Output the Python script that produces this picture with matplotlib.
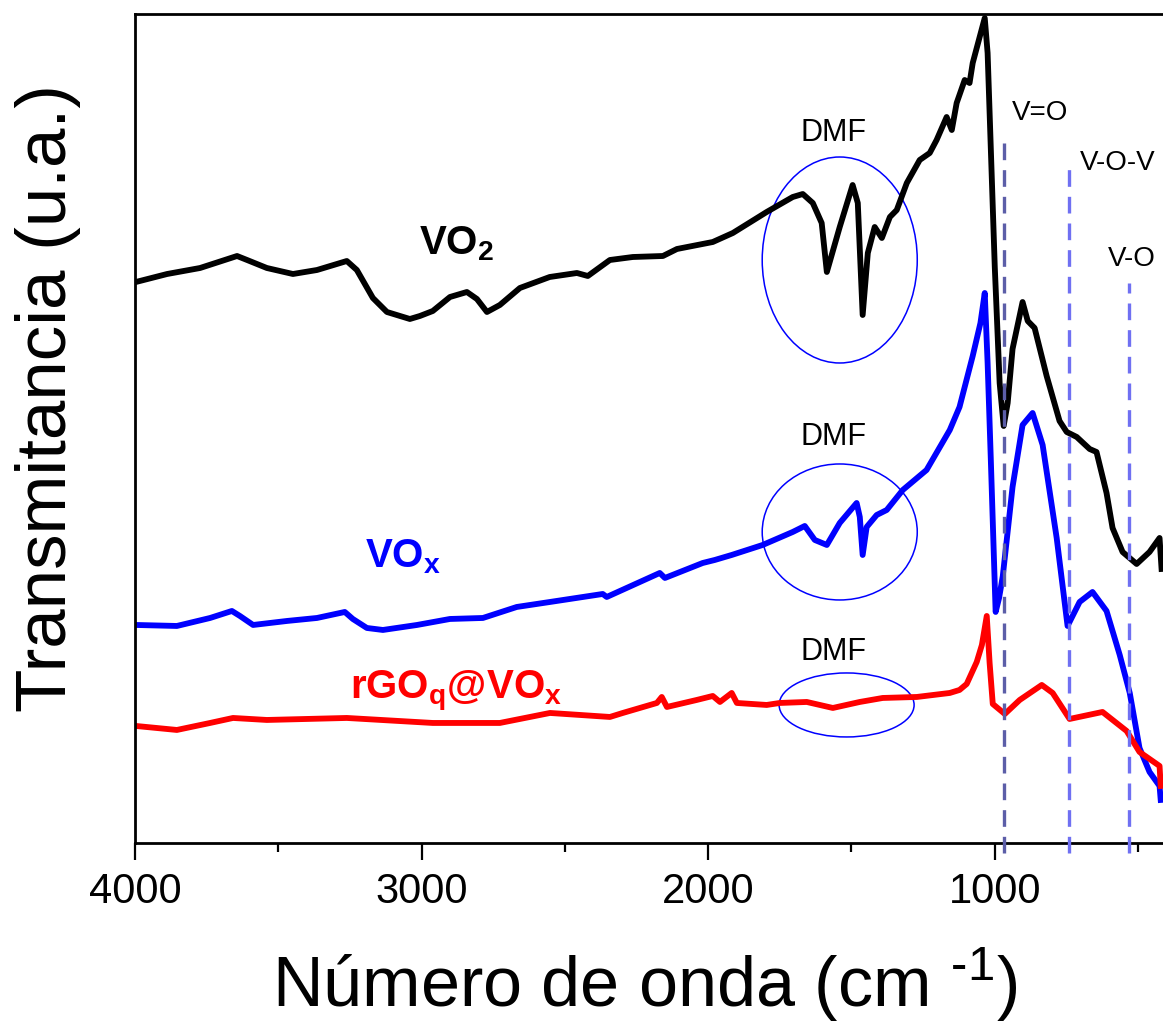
import matplotlib
matplotlib.use('Agg')
import matplotlib.pyplot as plt
from matplotlib.patches import Ellipse

plt.rcParams['font.family'] = ['Liberation Sans', 'DejaVu Sans']
plt.rcParams['mathtext.fontset'] = 'custom'
plt.rcParams['mathtext.rm'] = 'Liberation Sans'
plt.rcParams['mathtext.bf'] = 'Liberation Sans:bold'
plt.rcParams['mathtext.it'] = 'Liberation Sans:italic'

# FTIR spectra (wavenumber cm-1, transmittance a.u., offset stack)
vo2_wn = [3997, 3888, 3773, 3644, 3609, 3540, 3449, 3365, 3261, 3226, 3170, 3121, 3041,
          3006, 2961, 2901, 2842, 2807, 2772, 2727, 2657, 2553, 2458, 2420, 2343, 2263,
          2158, 2109, 1984, 1914, 1796, 1705, 1670, 1635, 1604, 1586, 1541, 1496, 1478,
          1461, 1443, 1419, 1394, 1366, 1342, 1307, 1262, 1227, 1203, 1168, 1150, 1133,
          1105, 1088, 1077, 1035, 1025, 1000, 983, 969, 955, 938, 903, 885, 861, 819, 774,
          749, 714, 669, 645, 610, 589, 554, 505, 460, 425, 418]
vo2_t = [56.1, 56.9, 57.5, 58.7, 58.3, 57.5, 56.9, 57.3, 58.2, 57.3, 54.5, 53.1, 52.4,
         52.7, 53.2, 54.6, 55.1, 54.4, 53.1, 53.8, 55.5, 56.6, 57.0, 56.7, 58.3, 58.6,
         58.7, 59.4, 60.1, 61.0, 63.1, 64.6, 64.9, 64.0, 62.0, 57.1, 61.6, 65.8, 64.0,
         52.8, 59.0, 61.6, 60.5, 62.6, 63.3, 66.0, 68.3, 69.0, 70.3, 72.6, 71.3, 74.0,
         76.3, 76.0, 78.0, 82.5, 79.0, 57.6, 46.0, 41.7, 44.0, 49.4, 54.1, 52.2, 51.5, 46.7,
         42.2, 41.1, 40.6, 39.4, 39.1, 35.0, 31.5, 29.1, 27.9, 29.1, 30.5, 27.4]

vox_wn = [3997, 3854, 3738, 3662, 3634, 3588, 3470, 3365, 3268, 3240, 3191, 3135, 3016,
          2901, 2786, 2668, 2552, 2368, 2354, 2169, 2151, 2019, 1977, 1918, 1810, 1705,
          1663, 1628, 1586, 1541, 1482, 1471, 1461, 1447, 1412, 1377, 1321, 1238, 1157,
          1123, 1077, 1050, 1035, 1025, 1014, 997, 985, 972, 938, 903, 868, 833, 784, 746,
          704, 659, 610, 564, 529, 495, 460, 425, 421]
vox_t = [21.8, 21.7, 22.5, 23.2, 22.7, 21.8, 22.2, 22.5, 23.1, 22.4, 21.5, 21.3, 21.8,
         22.4, 22.5, 23.6, 24.1, 24.9, 24.6, 27.0, 26.5, 28.0, 28.3, 28.8, 29.8, 31.1,
         31.7, 30.3, 29.8, 32.0, 34.0, 32.6, 28.8, 31.6, 32.8, 33.3, 35.3, 37.3, 41.3,
         43.6, 48.7, 52.0, 55.0, 48.0, 38.5, 23.1, 24.5, 26.7, 35.6, 41.8, 43.0, 39.8, 30.5,
         21.7, 24.1, 25.1, 23.2, 18.8, 15.0, 9.5, 7.1, 5.7, 4.3]

rgo_wn = [3997, 3854, 3738, 3658, 3540, 3261, 2961, 2727, 2552, 2343, 2298, 2179, 2162,
          2144, 2040, 1984, 1959, 1918, 1900, 1796, 1750, 1656, 1565, 1471, 1391, 1272,
          1157, 1123, 1098, 1063, 1045, 1028, 1018, 1007, 965, 913, 836, 798, 739, 624,
          540, 495, 425, 421]
rgo_t = [11.7, 11.3, 12.0, 12.5, 12.3, 12.5, 12.0, 12.0, 13.0, 12.6, 13.0, 14.0, 14.6,
         13.6, 14.3, 14.7, 14.1, 15.0, 14.0, 13.8, 14.0, 14.1, 13.5, 14.1, 14.5, 14.6,
         15.0, 15.3, 15.9, 18.1, 19.8, 22.7, 18.0, 13.9, 12.9, 14.3, 15.8, 15.0, 12.4, 13.1,
         11.2, 9.1, 7.7, 5.7]

band_pos = [969, 740, 533]
band_names = ['V=O', 'V-O-V', 'V-O']

fig = plt.figure(figsize=(11.63, 10.23), dpi=100)
ax = fig.add_axes([0.1161, 0.176, 0.8839, 0.8103])

ax.plot(vo2_wn, vo2_t, color='black', lw=4.2, solid_joinstyle='round', zorder=2)
ax.plot(vox_wn, vox_t, color='#0000ff', lw=4.2, solid_joinstyle='round', zorder=2)
ax.plot(rgo_wn, rgo_t, color='#ff0000', lw=4.2, solid_joinstyle='round', zorder=2)

# band markers
band_tops = [71.0, 68.0, 56.0]
band_cols = ['#5c5ea8', '#6f70f2', '#6f70f2']
for x, top, c in zip(band_pos, band_tops, band_cols):
    ax.plot([x, x], [-1.0, top], color=c, lw=2.4, dashes=(5, 3), clip_on=False, zorder=3)
ax.text(941, 73.0, band_names[0], fontsize=20, ha='left', va='center')
ax.text(704, 68.0, band_names[1], fontsize=20, ha='left', va='center')
ax.text(606, 58.4, band_names[2], fontsize=20, ha='left', va='center')

# DMF regions
for (cx, cy, w, h), ty in zip([(1541, 58.3, 541, 20.6), (1541, 31.1, 541, 13.6),
                               (1517, 13.8, 471, 6.4)], [71.0, 40.6, 19.1]):
    ax.add_patch(Ellipse((cx, cy), w, h, fill=False, edgecolor='#0000ff', lw=1.1))
    ax.text(1562, ty, 'DMF', fontsize=22, ha='center', va='center')

ax.text(3010, 58.9, r'$\mathbf{VO_2}$', fontsize=29, color='black', va='baseline')
ax.text(3198, 27.6, r'$\mathbf{VO_x}$', fontsize=29, color='#0000ff', va='baseline')
ax.text(3250, 14.5, r'$\mathbf{rGO_q@VO_x}$', fontsize=29, color='#ff0000', va='baseline')

ax.set_xlim(4000, 413)
ax.set_ylim(0, 82.9)
ax.set_xticks([4000, 3000, 2000, 1000])
ax.set_xticks([3500, 2500, 1500, 500], minor=True)
ax.set_yticks([])
ax.tick_params(axis='x', which='major', length=12, width=1.6, labelsize=30, pad=9)
ax.tick_params(axis='x', which='minor', length=6.5, width=1.6)
for s in ['left', 'bottom', 'top']:
    ax.spines[s].set_linewidth(2.0)
ax.spines['right'].set_visible(False)

fig.text(48 / 1163, 1 - 398 / 1023, 'Transmitancia (u.a.)', fontsize=51,
         rotation=90, ha='center', va='center')
fig.text(645 / 1163, 1 - 1007 / 1023, r'Número de onda (cm $^{\text{-1}}$)',
         fontsize=50.5, ha='center', va='baseline')

fig.savefig('out.png', dpi=100)
